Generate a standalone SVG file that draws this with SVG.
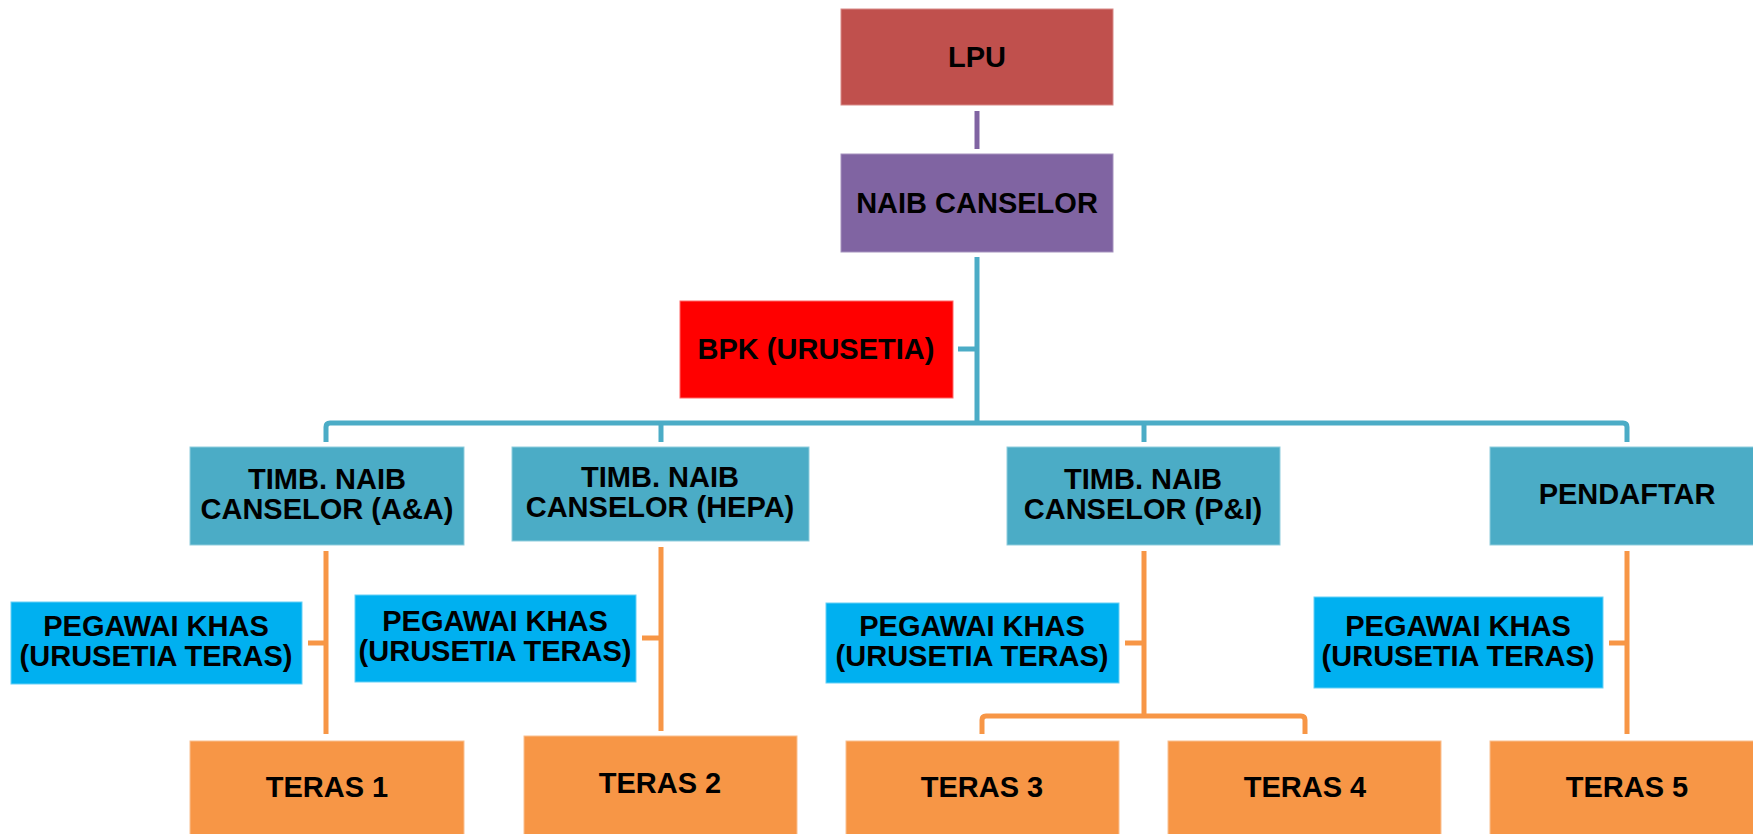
<svg xmlns="http://www.w3.org/2000/svg" width="1753" height="834" viewBox="0 0 1753 834">
<style>
text{font-family:"Liberation Sans",Arial,sans-serif;font-weight:bold;font-size:29px;fill:#000;text-anchor:middle}
.lpu{fill:#C0504D;stroke:#D88A88;stroke-width:1}
.vc{fill:#8064A2;stroke:#A592BE;stroke-width:1}
.bpk{fill:#FF0000;stroke:#FF6666;stroke-width:1}
.tn{fill:#4BACC6;stroke:#8FCDDD;stroke-width:1}
.pk{fill:#00B0F0;stroke:#66D0F6;stroke-width:1}
.tr{fill:#F79646;stroke:#FAC090;stroke-width:1}
.c{fill:none;stroke-width:5;stroke-linejoin:round;stroke-linecap:butt}
.cp{stroke:#8064A2}.ct{stroke:#4BACC6}.co{stroke:#F79646}
</style>
<g id="connectors">
<path class="c cp" d="M977 111V149"/>
<path class="c ct" d="M977 257V423"/>
<path class="c ct" d="M958 349H977"/>
<path class="c ct" d="M326 442V427Q326 423 330 423H1623Q1627 423 1627 427V442"/>
<path class="c ct" d="M661 423V442"/>
<path class="c ct" d="M1144 423V442"/>
<path class="c co" d="M326 551V734"/>
<path class="c co" d="M308 643H326"/>
<path class="c co" d="M661 547V731"/>
<path class="c co" d="M642 638H661"/>
<path class="c co" d="M1144 551V716"/>
<path class="c co" d="M1125 643H1144"/>
<path class="c co" d="M982 734V720Q982 716 986 716H1301Q1305 716 1305 720V734"/>
<path class="c co" d="M1627 551V734"/>
<path class="c co" d="M1609 643H1627"/>
</g>
<g id="lpu"><rect class="lpu" x="841" y="9" width="272" height="96"/><text x="977" y="67">LPU</text></g>
<g id="naib-canselor"><rect class="vc" x="841" y="154" width="272" height="98"/><text x="977" y="213">NAIB CANSELOR</text></g>
<g id="bpk"><rect class="bpk" x="680" y="301" width="273" height="97"/><text x="816" y="359">BPK (URUSETIA)</text></g>
<g id="tnc-aa"><rect class="tn" x="190" y="447" width="274" height="98"/><text x="327" y="489">TIMB. NAIB</text><text x="327" y="519">CANSELOR (A&amp;A)</text></g>
<g id="tnc-hepa"><rect class="tn" x="512" y="447" width="297" height="94"/><text x="660" y="487">TIMB. NAIB</text><text x="660" y="517">CANSELOR (HEPA)</text></g>
<g id="tnc-pi"><rect class="tn" x="1007" y="447" width="273" height="98"/><text x="1143" y="489">TIMB. NAIB</text><text x="1143" y="519">CANSELOR (P&amp;I)</text></g>
<g id="pendaftar"><rect class="tn" x="1490" y="447" width="270" height="98"/><text x="1627" y="504">PENDAFTAR</text></g>
<g id="pegawai-1"><rect class="pk" x="11" y="602" width="291" height="82"/><text x="156" y="636">PEGAWAI KHAS</text><text x="156" y="666">(URUSETIA TERAS)</text></g>
<g id="pegawai-2"><rect class="pk" x="355" y="595" width="281" height="87"/><text x="495" y="631">PEGAWAI KHAS</text><text x="495" y="661">(URUSETIA TERAS)</text></g>
<g id="pegawai-3"><rect class="pk" x="826" y="603" width="293" height="80"/><text x="972" y="636">PEGAWAI KHAS</text><text x="972" y="666">(URUSETIA TERAS)</text></g>
<g id="pegawai-4"><rect class="pk" x="1314" y="597" width="289" height="91"/><text x="1458" y="636">PEGAWAI KHAS</text><text x="1458" y="666">(URUSETIA TERAS)</text></g>
<g id="teras-1"><rect class="tr" x="190" y="741" width="274" height="100"/><text x="327" y="797">TERAS 1</text></g>
<g id="teras-2"><rect class="tr" x="524" y="736" width="273" height="105"/><text x="660" y="793">TERAS 2</text></g>
<g id="teras-3"><rect class="tr" x="846" y="741" width="273" height="100"/><text x="982" y="797">TERAS 3</text></g>
<g id="teras-4"><rect class="tr" x="1168" y="741" width="273" height="100"/><text x="1305" y="797">TERAS 4</text></g>
<g id="teras-5"><rect class="tr" x="1490" y="741" width="270" height="100"/><text x="1627" y="797">TERAS 5</text></g>
</svg>
